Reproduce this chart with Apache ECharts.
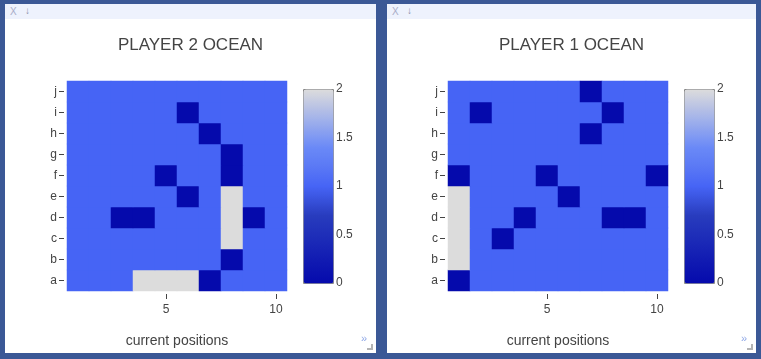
<!DOCTYPE html>
<html><head><meta charset="utf-8">
<script src="https://cdn.jsdelivr.net/npm/echarts@6/dist/echarts.min.js"></script>
<style>
html,body{margin:0;padding:0;width:761px;height:359px;background:#3b5896;overflow:hidden;font-family:'Liberation Sans',Arial,sans-serif;}
.panel{position:absolute;top:4px;height:349px;background:#fff;}
.chart{position:absolute;left:0;top:0;width:100%;height:100%;}
.hdr{position:absolute;left:0;top:0;right:0;height:15px;background:#eef2fd;z-index:2;}
.hx{position:absolute;left:5px;top:2px;font-size:10px;color:#a9adc8;}
.hd{position:absolute;left:20px;top:1px;font-size:10px;color:#8890a8;}
.more{position:absolute;right:9px;bottom:9px;font-size:11px;color:#8fa8e6;z-index:2;}
.corner{position:absolute;right:3px;bottom:3px;width:4px;height:4px;border-right:2px solid #b4b4b4;border-bottom:2px solid #b4b4b4;z-index:2;}
</style></head>
<body>
<div class="panel" id="p2" style="left:5px;width:371px;">
  <div class="chart" id="c2"></div>
  <div class="hdr"><span class="hx">X</span><span class="hd">↓</span></div>
  <div class="more">»</div><div class="corner"></div>
</div>
<div class="panel" id="p1" style="left:387px;width:369px;">
  <div class="chart" id="c1"></div>
  <div class="hdr"><span class="hx">X</span><span class="hd">↓</span></div>
  <div class="more">»</div><div class="corner"></div>
</div>
<script>
// ---- data ----
const rowLabels = ['a','b','c','d','e','f','g','h','i','j'];
const colLabels = ['1','2','3','4','5','6','7','8','9','10'];
const xTickLabels = ['5','10'];
const titles = ['PLAYER 2 OCEAN','PLAYER 1 OCEAN'];
const xAxisTitle = 'current positions';
// rows listed from a (bottom) to j (top), columns 1..10
const player2Rows = [
  [1,1,1,2,2,2,0,1,1,1], // a
  [1,1,1,1,1,1,1,0,1,1], // b
  [1,1,1,1,1,1,1,2,1,1], // c
  [1,1,0,0,1,1,1,2,0,1], // d
  [1,1,1,1,1,0,1,2,1,1], // e
  [1,1,1,1,0,1,1,0,1,1], // f
  [1,1,1,1,1,1,1,0,1,1], // g
  [1,1,1,1,1,1,0,1,1,1], // h
  [1,1,1,1,1,0,1,1,1,1], // i
  [1,1,1,1,1,1,1,1,1,1]  // j
];
const player1Rows = [
  [0,1,1,1,1,1,1,1,1,1], // a
  [2,1,1,1,1,1,1,1,1,1], // b
  [2,1,0,1,1,1,1,1,1,1], // c
  [2,1,1,0,1,1,1,0,0,1], // d
  [2,1,1,1,1,0,1,1,1,1], // e
  [0,1,1,1,0,1,1,1,1,0], // f
  [1,1,1,1,1,1,1,1,1,1], // g
  [1,1,1,1,1,1,0,1,1,1], // h
  [1,0,1,1,1,1,1,0,1,1], // i
  [1,1,1,1,1,1,0,1,1,1]  // j
];
const colorMin = 0, colorMax = 2, colorStep = 0.5;

// ---- styles ----
const FONT = "'Liberation Sans', Arial, sans-serif";
const TXT = '#444';
const scaleStops = [[0,[5,10,172]],[0.35,[40,60,190]],[0.5,[70,100,245]],[0.6,[90,120,245]],[0.7,[106,137,247]],[1,[220,220,220]]];
function sampleScale(t){
  for(let i=1;i<scaleStops.length;i++){
    const [t1,c1]=scaleStops[i-1],[t2,c2]=scaleStops[i];
    if(t<=t2+1e-9){const f=(t-t1)/(t2-t1);return 'rgb('+c1.map((c,k)=>Math.round(c+(c2[k]-c)*f)).join(',')+')';}
  }
  return 'rgb(220,220,220)';
}
const gradient=[];for(let i=0;i<=20;i++)gradient.push(sampleScale(i/20));

const showTick = (idx, val) => xTickLabels.indexOf(val) >= 0;

function makeOption(title, rows, gl){
  const data=[];
  rows.forEach((r,yi)=>r.forEach((v,xi)=>data.push([xi,yi,v])));
  const cbLeft = gl + 236;
  return {
    animation:false,
    textStyle:{fontFamily:FONT},
    title:{text:title,left:'center',top:28,textStyle:{fontFamily:FONT,fontSize:17,fontWeight:'normal',color:TXT}},
    grid:[{left:gl,top:77,width:220,height:210},{left:cbLeft,top:85,width:30,height:194}],
    xAxis:[{type:'category',gridIndex:0,data:colLabels,offset:3,
      axisLine:{show:false},
      axisTick:{show:true,alignWithLabel:true,length:5,interval:showTick,lineStyle:{color:TXT}},
      axisLabel:{interval:showTick,margin:10,fontSize:12,color:TXT,fontFamily:FONT},
      splitLine:{show:false},
      name:xAxisTitle,nameLocation:'middle',nameGap:40,nameTextStyle:{fontSize:14,color:TXT,fontFamily:FONT}},
      {type:'value',gridIndex:1,show:false,min:0,max:1}],
    yAxis:[{type:'category',gridIndex:0,data:rowLabels,offset:3,
      axisLine:{show:false},
      axisTick:{show:true,alignWithLabel:true,length:5,lineStyle:{color:TXT}},
      axisLabel:{margin:7,fontSize:12,color:TXT,fontFamily:FONT},
      splitLine:{show:false}},
      {type:'value',gridIndex:1,min:colorMin,max:colorMax,interval:colorStep,position:'right',
      axisLine:{show:false},axisTick:{show:false},splitLine:{show:false},
      axisLabel:{margin:3,fontSize:12,color:TXT,fontFamily:FONT}}],
    visualMap:{type:'continuous',min:colorMin,max:colorMax,seriesIndex:0,calculable:false,
      left:cbLeft,top:85,itemWidth:30,itemHeight:194,padding:0,
      borderColor:'#888',borderWidth:1,inRange:{color:gradient}},
    series:[{type:'heatmap',data:data,xAxisIndex:0,yAxisIndex:0,itemStyle:{borderWidth:0}}]
  };
}
echarts.init(document.getElementById('c2')).setOption(makeOption(titles[0],player2Rows,62));
echarts.init(document.getElementById('c1')).setOption(makeOption(titles[1],player1Rows,61));
</script>
</body></html>
